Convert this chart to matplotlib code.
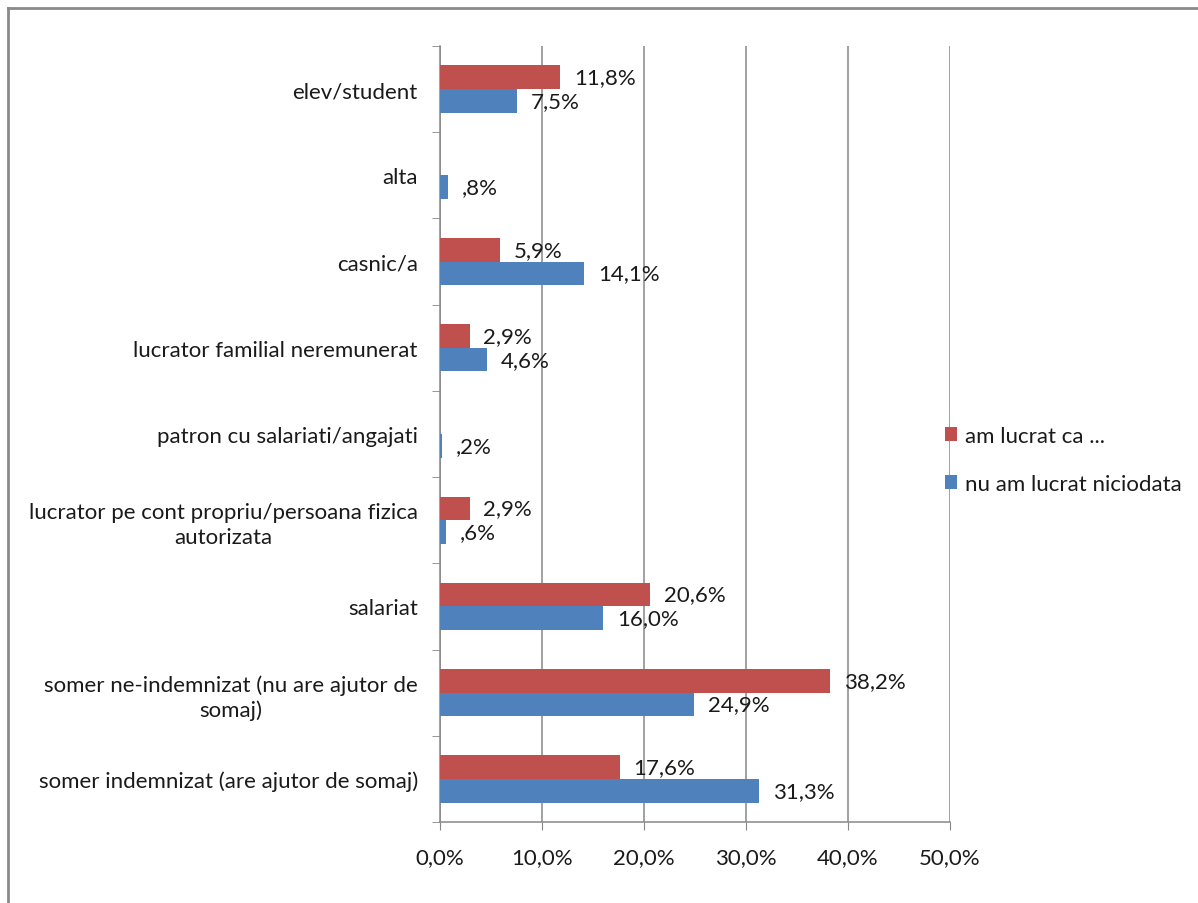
import numpy as np
import matplotlib
matplotlib.use("Agg")
import matplotlib.pyplot as plt
from matplotlib.lines import Line2D

plt.rcParams['font.family'] = ['Lato', 'DejaVu Sans']

# Categories listed bottom to top
categories = [
    "somer indemnizat (are ajutor de somaj)",
    "somer ne-indemnizat (nu are ajutor de\nsomaj)",
    "salariat",
    "lucrator pe cont propriu/persoana fizica\nautorizata",
    "patron cu salariati/angajati",
    "lucrator familial neremunerat",
    "casnic/a",
    "alta",
    "elev/student",
]
am_lucrat = [17.6, 38.2, 20.6, 2.9, np.nan, 2.9, 5.9, np.nan, 11.8]
nu_am_lucrat = [31.3, 24.9, 16.0, 0.6, 0.2, 4.6, 14.1, 0.8, 7.5]
series_names = ["am lucrat ca ...", "nu am lucrat niciodata"]
x_ticks = [0, 10, 20, 30, 40, 50]

RED = "#C0504D"
BLUE = "#4F81BD"
GRID = "#878787"
TEXT = "#1a1a1a"
FS = 16


def fmt(v):
    s = f"{v:.1f}".replace(".", ",")
    if s.startswith("0,"):
        s = s[1:]
    return s + "%"


fig = plt.figure(figsize=(11.98, 9.04), dpi=100)
ax = fig.add_axes([440 / 1198, 1 - 823 / 904, 510 / 1198, (823 - 47) / 904])

y = np.arange(len(categories))
h = 0.275
ax.barh(y + h / 2, am_lucrat, height=h, color=RED, label=series_names[0], zorder=3)
ax.barh(y - h / 2, nu_am_lucrat, height=h, color=BLUE, label=series_names[1], zorder=3)

for yi, v in zip(y, am_lucrat):
    if not np.isnan(v):
        ax.annotate(fmt(v), (v, yi + h / 2), xytext=(10, 0), textcoords="offset points",
                    va="center", ha="left", fontsize=FS, color=TEXT)
for yi, v in zip(y, nu_am_lucrat):
    if not np.isnan(v):
        ax.annotate(fmt(v), (v, yi - h / 2), xytext=(10, 0), textcoords="offset points",
                    va="center", ha="left", fontsize=FS, color=TEXT)

ax.set_xlim(0, 50)
ax.set_ylim(-0.5, len(categories) - 0.5)
ax.set_xticks(x_ticks)
ax.set_xticklabels([f"{t:.1f}".replace(".", ",") + "%" for t in x_ticks], fontsize=FS, color=TEXT)
ax.set_yticks(y)
ax.set_yticklabels(categories, fontsize=FS, color=TEXT, multialignment="center", linespacing=1.3)
ax.set_yticks(np.arange(-0.5, len(categories)), minor=True)
ax.tick_params(axis="y", which="major", length=0, pad=16)
ax.tick_params(axis="y", which="minor", length=6, color=GRID, direction="out")
ax.tick_params(axis="x", which="major", length=6, color=GRID, direction="out", pad=12)

ax.xaxis.grid(True, color=GRID, linewidth=1.1, zorder=0)
for s in ("top", "right"):
    ax.spines[s].set_visible(False)
for s in ("left", "bottom"):
    ax.spines[s].set_color(GRID)
    ax.spines[s].set_linewidth(1.1)

leg = fig.legend(loc="upper left", bbox_to_anchor=(925 / 1198, 1 - 407 / 904),
                 frameon=False, fontsize=FS, handlelength=0.55, handleheight=0.55,
                 handletextpad=0.35, labelspacing=1.25)
for t in leg.get_texts():
    t.set_color(TEXT)

# Outer frame (left and top edges)
fig.add_artist(Line2D([8 / 1198, 8 / 1198], [0, 1 - 9 / 904], transform=fig.transFigure,
                      color="#8a8a8a", linewidth=2))
fig.add_artist(Line2D([8 / 1198, 1], [1 - 9 / 904, 1 - 9 / 904], transform=fig.transFigure,
                      color="#8a8a8a", linewidth=2))

fig.savefig("out.png", dpi=100)
